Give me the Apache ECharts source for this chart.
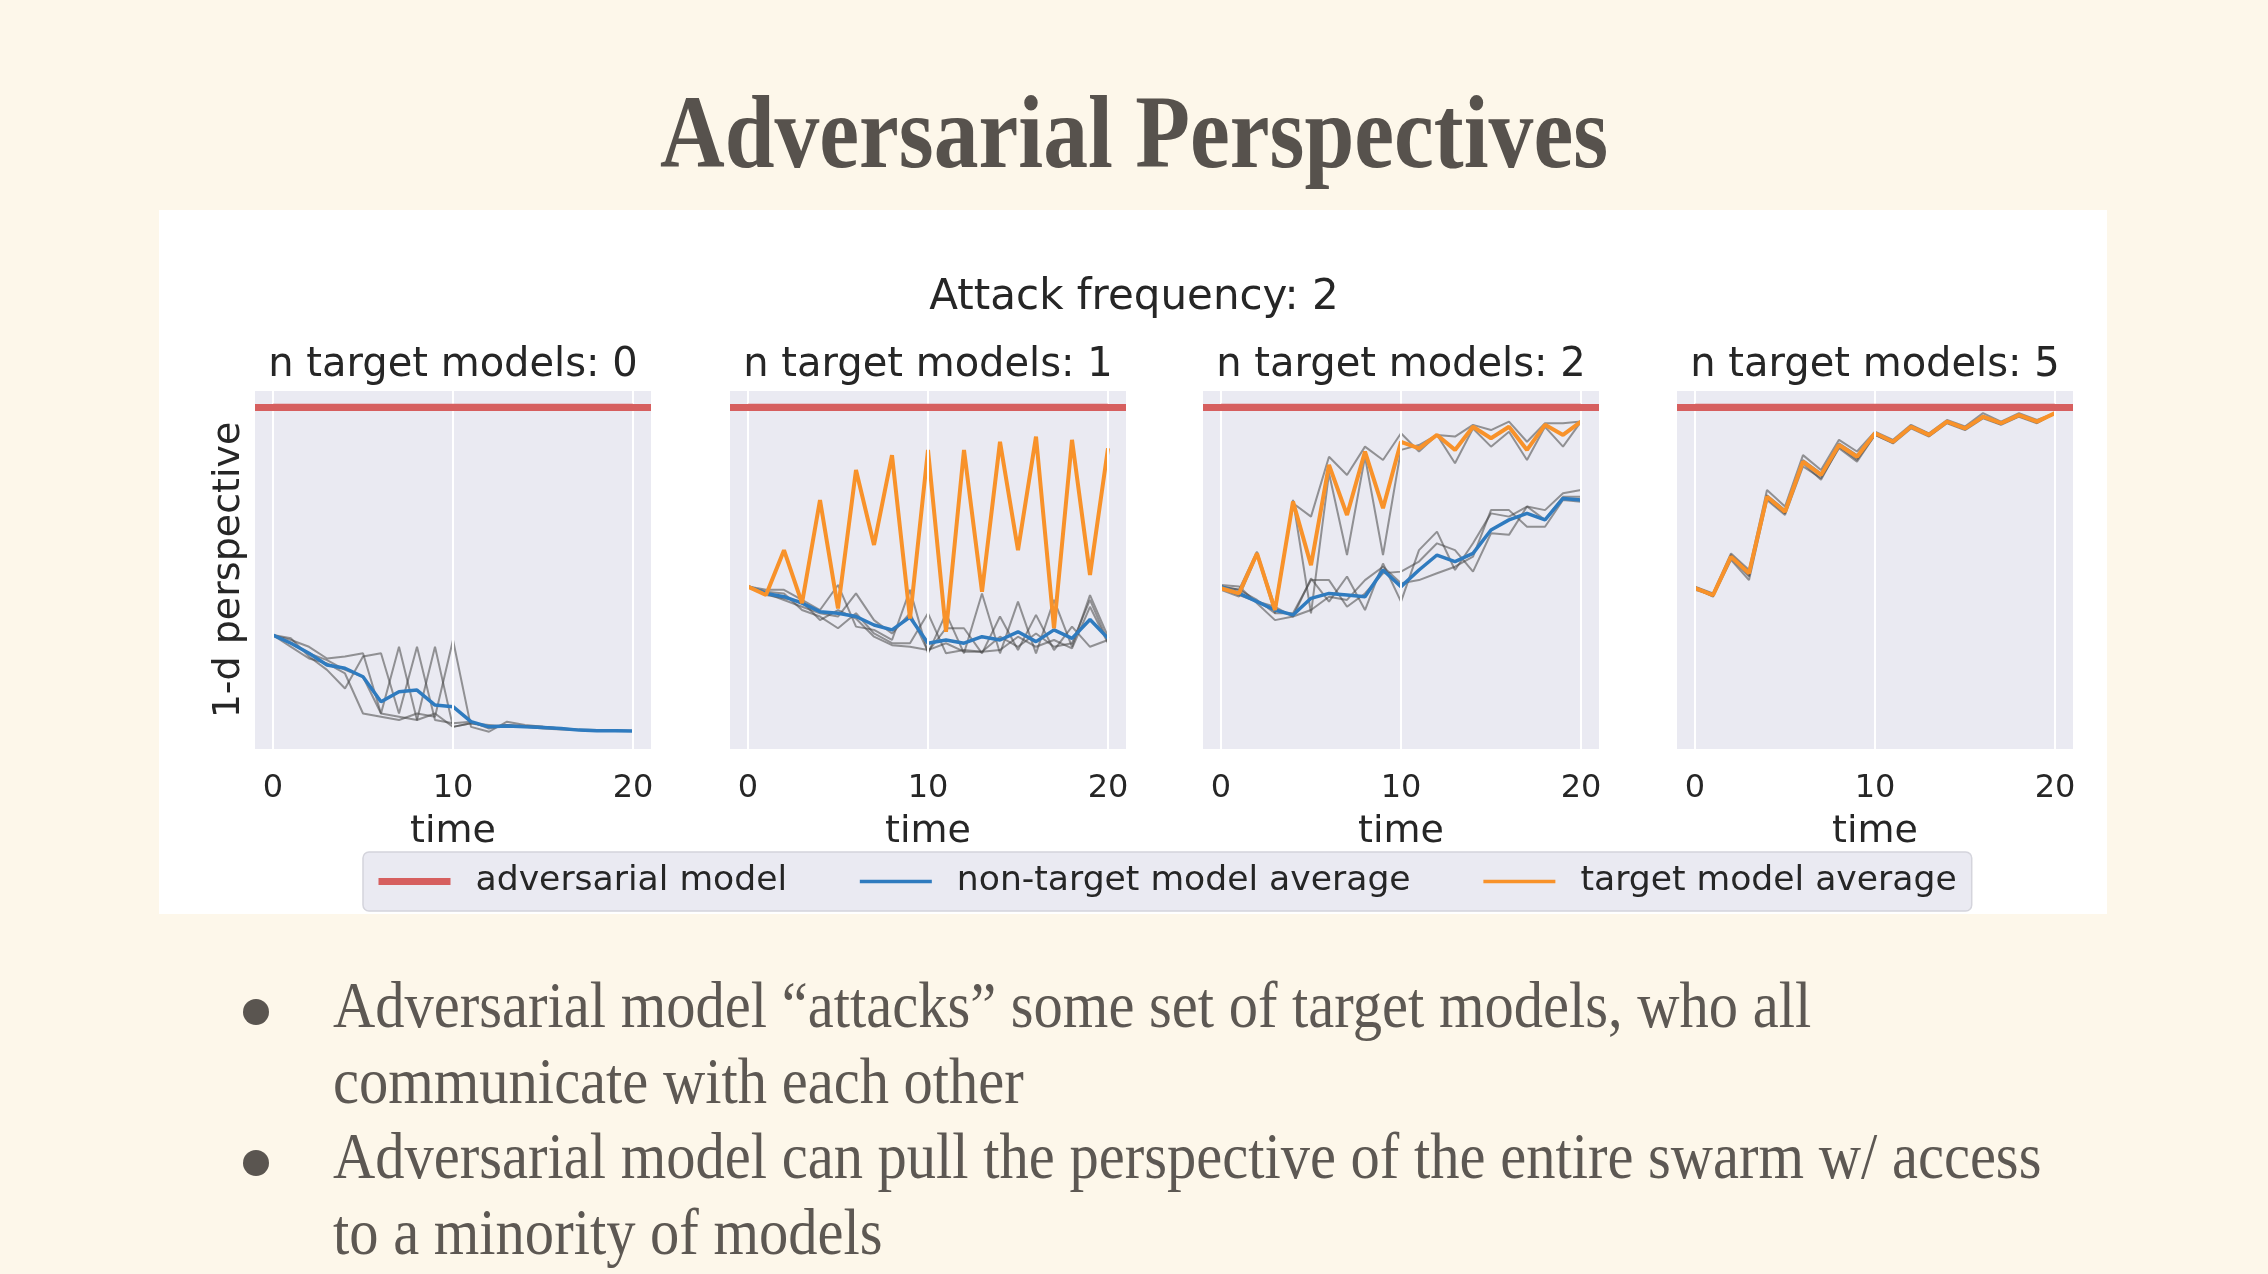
<!DOCTYPE html>
<html>
<head>
<meta charset="utf-8">
<script src="https://cdn.jsdelivr.net/npm/echarts@6/dist/echarts.min.js"></script>
<style>
  html, body { margin: 0; padding: 0; background: #fdf7ea; }
  #white { position: absolute; left: 159px; top: 210px; width: 1948px; height: 704px; background: #ffffff; }
  #chart { position: absolute; left: 0; top: 0; width: 2268px; height: 1274px; }
</style>
</head>
<body>
<div id="white"></div>
<div id="chart"></div>
<script>
// ---------------- data ----------------
const timeSteps = [0,1,2,3,4,5,6,7,8,9,10,11,12,13,14,15,16,17,18,19,20];
const xTicks = [0, 10, 20];
const advValue = 1.0;
const advLine = [1,1,1,1,1,1,1,1,1,1,1,1,1,1,1,1,1,1,1,1,1];
const panelTitles = ['n target models: 0','n target models: 1','n target models: 2','n target models: 5'];
const legendNames = ['adversarial model','non-target model average','target model average'];

// panel 1 : n target = 0
const p1Others = [
  [0.30,0.285,0.264,0.228,0.234,0.244,0.059,0.264,0.039,0.059,0.018,0.029,0.024,0.018,0.018,0.013,0.010,0.008,0.006,0.006,0.005],
  [0.30,0.290,0.234,0.193,0.136,0.234,0.244,0.059,0.264,0.039,0.029,0.034,0.013,0.024,0.018,0.016,0.012,0.008,0.006,0.006,0.005],
  [0.30,0.275,0.244,0.223,0.193,0.172,0.059,0.049,0.039,0.264,0.018,0.029,0.018,0.024,0.021,0.018,0.013,0.008,0.006,0.006,0.005],
  [0.30,0.264,0.228,0.213,0.182,0.059,0.049,0.039,0.059,0.049,0.285,0.018,0.003,0.034,0.024,0.018,0.013,0.010,0.008,0.006,0.005]
];
const p1Blue = [0.30,0.275,0.244,0.208,0.198,0.172,0.095,0.126,0.131,0.085,0.080,0.034,0.018,0.021,0.018,0.016,0.013,0.008,0.006,0.006,0.005];

// panel 2 : n target = 1
const p2Others = [
  [0.449,0.439,0.439,0.408,0.377,0.454,0.326,0.316,0.285,0.439,0.244,0.367,0.244,0.428,0.244,0.403,0.244,0.408,0.264,0.423,0.295],
  [0.449,0.428,0.408,0.387,0.367,0.357,0.428,0.346,0.305,0.367,0.249,0.321,0.321,0.244,0.357,0.254,0.362,0.254,0.326,0.264,0.285],
  [0.449,0.433,0.428,0.377,0.357,0.321,0.367,0.305,0.275,0.275,0.367,0.244,0.254,0.249,0.295,0.264,0.305,0.264,0.275,0.408,0.280],
  [0.449,0.423,0.413,0.403,0.346,0.377,0.351,0.295,0.269,0.264,0.254,0.275,0.249,0.249,0.254,0.295,0.264,0.285,0.259,0.387,0.275]
];
const p2Blue = [0.449,0.428,0.418,0.398,0.372,0.367,0.357,0.331,0.316,0.355,0.275,0.285,0.275,0.295,0.285,0.310,0.280,0.316,0.290,0.348,0.290];
const p2Orange = [0.449,0.423,0.561,0.398,0.715,0.382,0.807,0.577,0.853,0.351,0.869,0.310,0.869,0.433,0.894,0.561,0.910,0.321,0.900,0.485,0.874];

// panel 3 : n target = 2
const p3Targets = [
  [0.449,0.439,0.556,0.387,0.705,0.664,0.848,0.792,0.879,0.838,0.920,0.864,0.915,0.910,0.946,0.930,0.956,0.894,0.951,0.951,0.956],
  [0.439,0.418,0.546,0.367,0.715,0.367,0.797,0.546,0.848,0.546,0.869,0.884,0.915,0.828,0.935,0.879,0.925,0.838,0.940,0.879,0.956]
];
const p3Others = [
  [0.454,0.449,0.398,0.346,0.357,0.474,0.403,0.480,0.377,0.520,0.403,0.561,0.618,0.500,0.582,0.674,0.664,0.695,0.684,0.736,0.746],
  [0.449,0.439,0.408,0.367,0.367,0.469,0.469,0.387,0.428,0.490,0.495,0.526,0.582,0.561,0.495,0.613,0.608,0.695,0.654,0.725,0.725],
  [0.444,0.423,0.403,0.387,0.357,0.377,0.418,0.408,0.469,0.510,0.459,0.469,0.490,0.510,0.541,0.684,0.684,0.633,0.633,0.715,0.710]
];
const p3Blue = [0.449,0.428,0.403,0.377,0.362,0.413,0.428,0.423,0.418,0.500,0.449,0.500,0.546,0.526,0.551,0.623,0.654,0.674,0.654,0.720,0.715];
const p3Orange = [0.444,0.428,0.551,0.377,0.710,0.515,0.823,0.669,0.864,0.690,0.894,0.874,0.915,0.869,0.940,0.905,0.940,0.869,0.946,0.915,0.956];

// panel 4 : n target = 5
const p4Targets = [
  [0.449,0.428,0.551,0.500,0.746,0.695,0.853,0.807,0.900,0.864,0.925,0.900,0.946,0.920,0.961,0.941,0.982,0.956,0.982,0.961,0.982],
  [0.444,0.418,0.531,0.469,0.715,0.669,0.818,0.782,0.874,0.833,0.915,0.889,0.935,0.910,0.951,0.930,0.966,0.946,0.971,0.951,0.982],
  [0.439,0.423,0.546,0.495,0.730,0.684,0.838,0.797,0.889,0.853,0.920,0.897,0.940,0.915,0.956,0.938,0.973,0.953,0.977,0.957,0.982],
  [0.444,0.420,0.536,0.480,0.720,0.674,0.828,0.777,0.879,0.838,0.915,0.891,0.938,0.912,0.953,0.932,0.969,0.948,0.973,0.953,0.982],
  [0.447,0.426,0.543,0.484,0.727,0.676,0.833,0.789,0.884,0.843,0.918,0.893,0.943,0.918,0.957,0.935,0.971,0.951,0.975,0.956,0.982]
];
const p4Orange = [0.444,0.423,0.541,0.490,0.725,0.679,0.833,0.792,0.884,0.848,0.920,0.894,0.940,0.915,0.956,0.935,0.971,0.951,0.976,0.956,0.982];

const bulletLines = [
  'Adversarial model \u201Cattacks\u201D some set of target models, who all',
  'communicate with each other',
  'Adversarial model can pull the perspective of the entire swarm w/ access',
  'to a minority of models'
];

// ---------------- styling / layout ----------------
const RED = '#d65f5f', BLUE = '#2f7bbf', ORANGE = '#f8922a', GRAY = 'rgba(70,70,70,0.55)';
const FONT = 'DejaVu Sans';
const TXT = '#262626';
const gridLefts = [255, 730, 1203, 1677];
const gridW = 396, gridTop = 391, gridH = 358;

const panels = [
  { gray: p1Others, blue: p1Blue, orange: null },
  { gray: p2Others, blue: p2Blue, orange: p2Orange },
  { gray: p3Targets.concat(p3Others), blue: p3Blue, orange: p3Orange },
  { gray: p4Targets, blue: null, orange: p4Orange }
];

function pairs(vals) { return timeSteps.map((t, i) => [t, vals[i]]); }

const grids = [], xAxes = [], yAxes = [], series = [];
panels.forEach((p, gi) => {
  grids.push({ left: gridLefts[gi], top: gridTop, width: gridW, height: gridH,
               show: true, backgroundColor: '#eaeaf2', borderWidth: 0 });
  xAxes.push({
    type: 'value', gridIndex: gi, min: -1, max: 21,
    axisLine: { show: false }, axisTick: { show: false }, splitLine: { show: false },
    axisLabel: { customValues: xTicks, fontSize: 32, color: TXT, fontFamily: FONT, margin: 24 },
    name: 'time', nameLocation: 'middle', nameGap: 64,
    nameTextStyle: { fontSize: 38, color: TXT, fontFamily: FONT }
  });
  yAxes.push({
    type: 'value', gridIndex: gi, min: -0.05, max: 1.05,
    axisLine: { show: false }, axisTick: { show: false }, splitLine: { show: false },
    axisLabel: { show: false }
  });
  // white vertical grid lines at tick positions
  series.push({
    type: 'line', name: 'grid', xAxisIndex: gi, yAxisIndex: gi, z: 1, silent: true,
    data: pairs(advLine), showSymbol: false, lineStyle: { opacity: 0 },
    markLine: { silent: true, symbol: 'none', label: { show: false },
      lineStyle: { color: '#ffffff', width: 2, type: 'solid' },
      data: xTicks.map(v => ({ xAxis: v })) }
  });
  p.gray.forEach((g) => {
    series.push({ type: 'line', name: 'individual model', xAxisIndex: gi, yAxisIndex: gi, z: 2,
      data: pairs(g), showSymbol: false, silent: true, lineStyle: { color: GRAY, width: 2 } });
  });
  if (p.blue) series.push({ type: 'line', name: legendNames[1], xAxisIndex: gi, yAxisIndex: gi, z: 3,
      data: pairs(p.blue), showSymbol: false, symbol: 'none', silent: true, color: BLUE,
      lineStyle: { color: BLUE, width: 3.5 } });
  if (p.orange) series.push({ type: 'line', name: legendNames[2], xAxisIndex: gi, yAxisIndex: gi, z: 4,
      data: pairs(p.orange), showSymbol: false, symbol: 'none', silent: true, color: ORANGE,
      lineStyle: { color: ORANGE, width: 4 } });
  series.push({ type: 'line', name: legendNames[0], xAxisIndex: gi, yAxisIndex: gi, z: 5,
      data: pairs(advLine), showSymbol: false, symbol: 'none', silent: true, color: RED,
      lineStyle: { color: RED, width: 7 },
      markLine: { silent: true, symbol: 'none', label: { show: false },
        lineStyle: { color: RED, width: 7, type: 'solid' }, data: [{ yAxis: advValue }] } });
});

const graphic = [
  { type: 'text', x: 1134, y: 140, scaleX: 0.87, z: 10,
    style: { text: 'Adversarial Perspectives', fontSize: 103, fontWeight: 'bold', fontFamily: 'Liberation Serif',
             fill: '#57524d', align: 'center', verticalAlign: 'middle' } },
  { type: 'text', x: 1134, y: 298, z: 10,
    style: { text: 'Attack frequency: 2', fontSize: 42, fontFamily: FONT, fill: TXT, align: 'center', verticalAlign: 'middle' } },
  { type: 'text', x: 229, y: 570, rotation: Math.PI / 2, z: 10,
    style: { text: '1-d perspective', fontSize: 38, fontFamily: FONT, fill: TXT, align: 'center', verticalAlign: 'middle' } }
];
panelTitles.forEach((t, i) => {
  graphic.push({ type: 'text', x: gridLefts[i] + gridW / 2, y: 366, z: 10,
    style: { text: t, fontSize: 40, fontFamily: FONT, fill: TXT, align: 'center', verticalAlign: 'middle' } });
});
const lineYs = [1010, 1086, 1161, 1237];
bulletLines.forEach((t, i) => {
  graphic.push({ type: 'text', x: 333, y: lineYs[i], scaleX: 0.887, z: 10,
    style: { text: t, fontSize: 66, fontFamily: 'Liberation Serif', fill: '#5d5853', align: 'left', verticalAlign: 'middle' } });
});
[0, 2].forEach(i => {
  graphic.push({ type: 'circle', z: 10, shape: { cx: 256, cy: lineYs[i] + 2, r: 13 }, style: { fill: '#5a5550' } });
});

const option = {
  backgroundColor: 'transparent',
  animation: false,
  grid: grids, xAxis: xAxes, yAxis: yAxes, series: series,
  legend: {
    data: [
      { name: legendNames[0], lineStyle: { width: 7, color: RED }, itemStyle: { opacity: 0 } },
      { name: legendNames[1], lineStyle: { width: 3.5, color: BLUE }, itemStyle: { opacity: 0 } },
      { name: legendNames[2], lineStyle: { width: 3.5, color: ORANGE }, itemStyle: { opacity: 0 } }
    ],
    left: 363, top: 852, orient: 'horizontal',
    itemWidth: 72, itemHeight: 14, itemGap: 71, padding: [12, 15, 12, 12],
    itemStyle: { opacity: 0 },
    backgroundColor: '#eaeaf2', borderColor: '#d4d4dc', borderWidth: 1.5, borderRadius: 6,
    textStyle: { fontSize: 34.6, color: TXT, fontFamily: FONT, padding: [0, 0, 0, 20] },
    selectedMode: false
  },
  graphic: graphic
};

const chart = echarts.init(document.getElementById('chart'), null, { renderer: 'canvas' });
chart.setOption(option);
</script>
</body>
</html>
